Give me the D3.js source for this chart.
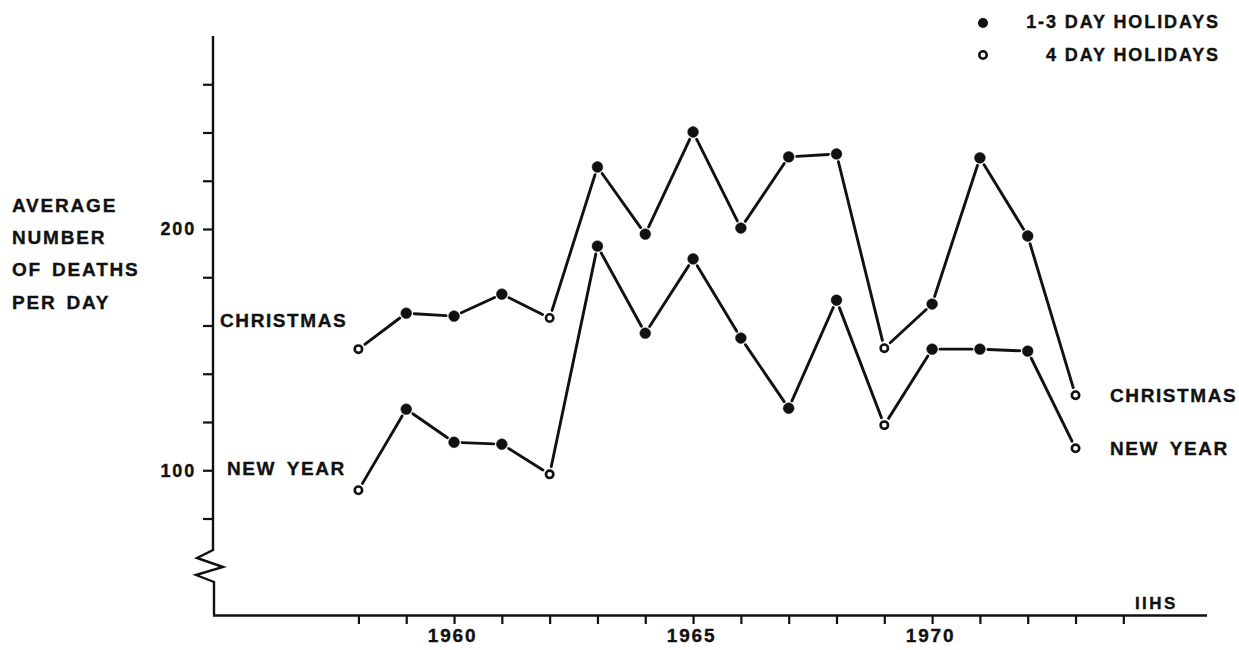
<!DOCTYPE html>
<html>
<head>
<meta charset="utf-8">
<script src="https://cdn.jsdelivr.net/npm/d3@7"></script>
<style>
  html, body { margin: 0; padding: 0; background: #fff; }
  svg { display: block; }
  text { font-family: "Liberation Sans", Arial, Helvetica, sans-serif; font-weight: bold; fill: #111; stroke: #111; stroke-width: 0.35px; }
</style>
</head>
<body>
<svg id="chart" width="1239" height="650"></svg>
<script>
// ---- data ----
const years = [1958,1959,1960,1961,1962,1963,1964,1965,1966,1967,1968,1969,1970,1971,1972,1973];
const christmas = [150.2,165.1,163.9,173.0,163.1,225.7,197.9,240.2,200.4,229.9,231.1,150.6,168.9,229.5,197.1,131.1];
const newYear   = [91.7,125.3,111.6,110.8,98.3,192.9,156.8,187.6,154.8,125.7,170.5,118.7,150.2,150.2,149.4,109.1];
// holiday length type per year: "short" = 1-3 day, "long" = 4 day
const holidayType = ["long","short","short","short","long","short","short","short","short","short","short","long","short","short","short","long"];
const xTickValues = [1958,1959,1960,1961,1962,1963,1964,1965,1966,1967,1968,1969,1970,1971,1972,1973,1974];
const xTickLabels = [1960,1965,1970];
const yTickValues = [80,100,120,140,160,180,200,220,240,260];
const yTickLabels = [100,200];
const yTitle = ["AVERAGE","NUMBER","OF DEATHS","PER DAY"];
const legendLabels = ["1-3 DAY HOLIDAYS","4 DAY HOLIDAYS"];

const svg = d3.select("#chart");
const ink = "#111";

const x = d3.scaleLinear().domain([1955, 1975.75]).range([215, 1207]);
const y = d3.scaleLinear().domain([40, 280]).range([615, 36]);
const axisX = 213;

// ---- y axis with break ----
const yTop = y(280), yBreakStart = 550, yBottom = y(40);
const yAxisPath = d3.path();
yAxisPath.moveTo(axisX, yTop);
yAxisPath.lineTo(axisX, yBreakStart);
yAxisPath.lineTo(axisX - 16, yBreakStart + 8);
yAxisPath.lineTo(axisX + 10, yBreakStart + 17);
yAxisPath.lineTo(axisX - 17, yBreakStart + 25);
yAxisPath.lineTo(axisX + 1, yBreakStart + 32);
yAxisPath.lineTo(axisX + 1, yBottom);
svg.append("path").attr("d", yAxisPath.toString())
  .attr("fill", "none").attr("stroke", ink).attr("stroke-width", 2.4).attr("stroke-linejoin", "miter");

const yAxis = d3.axisLeft(y).tickValues(yTickValues).tickSize(10)
  .tickFormat(d => yTickLabels.includes(d) ? d : "");
const gy = svg.append("g").attr("transform", `translate(${axisX},0)`).call(yAxis);
gy.select(".domain").remove();
gy.selectAll(".tick line").attr("stroke", ink).attr("stroke-width", 2.2);
gy.selectAll(".tick text").attr("x", -17).attr("font-size", 18)
  .attr("font-family", "Liberation Sans, Arial, sans-serif").attr("font-weight", "bold")
  .attr("letter-spacing", "1.8px").attr("fill", ink);

// ---- x axis ----
const xAxis = d3.axisBottom(x).tickValues(xTickValues).tickSize(9)
  .tickFormat(d => xTickLabels.includes(d) ? d : "");
const gx = svg.append("g").attr("transform", `translate(0,${yBottom})`).call(xAxis);
gx.select(".domain").attr("d", `M${axisX},0.5H${x.range()[1]}`).attr("stroke", ink).attr("stroke-width", 2.4);
gx.selectAll(".tick line").attr("stroke", ink).attr("stroke-width", 2.2);
gx.selectAll(".tick text").attr("x", -2).attr("y", 14).attr("dy", "0.71em").attr("font-size", 19)
  .attr("font-family", "Liberation Sans, Arial, sans-serif").attr("font-weight", "bold")
  .attr("letter-spacing", "1.8px").attr("fill", ink);

// ---- y title ----
svg.append("g").selectAll("text").data(yTitle).join("text")
  .attr("x", 12).attr("y", (d, i) => 212 + i * 32.2)
  .attr("font-size", 19).attr("letter-spacing", "1.8px").attr("word-spacing", "3px")
  .text(d => d);

// ---- series ----
const series = [
  { name: "CHRISTMAS", values: christmas },
  { name: "NEW YEAR", values: newYear }
];
const gap = 8;
series.forEach(s => {
  const pts = years.map((yr, i) => [x(yr), y(s.values[i])]);
  const segs = d3.pairs(pts).map(([a, b]) => {
    const dx = b[0] - a[0], dy = b[1] - a[1];
    const len = Math.hypot(dx, dy);
    const ux = dx / len, uy = dy / len;
    return [a[0] + ux * gap, a[1] + uy * gap, b[0] - ux * gap, b[1] - uy * gap];
  });
  svg.append("g").selectAll("line").data(segs).join("line")
    .attr("x1", d => d[0]).attr("y1", d => d[1]).attr("x2", d => d[2]).attr("y2", d => d[3])
    .attr("stroke", ink).attr("stroke-width", 2.9).attr("stroke-linecap", "round");
  const g = svg.append("g");
  g.selectAll("circle").data(years.map((yr, i) => ({ yr, v: s.values[i], t: holidayType[i] }))).join("circle")
    .attr("cx", d => x(d.yr)).attr("cy", d => y(d.v))
    .attr("r", d => d.t === "short" ? 5.4 : 3.7)
    .attr("fill", d => d.t === "short" ? ink : "#fff")
    .attr("stroke", ink).attr("stroke-width", d => d.t === "short" ? 0.5 : 2.6);
});

// ---- series labels ----
const labelStyle = sel => sel.attr("font-size", 19).attr("letter-spacing", "1.6px").attr("word-spacing", "4px");
svg.append("text").attr("x", 220).attr("y", 327).call(labelStyle).text("CHRISTMAS");
svg.append("text").attr("x", 227).attr("y", 475).call(labelStyle).text("NEW YEAR");
svg.append("text").attr("x", 1110).attr("y", 402).call(labelStyle).text("CHRISTMAS");
svg.append("text").attr("x", 1110).attr("y", 455).call(labelStyle).text("NEW YEAR");

// ---- legend ----
const lg = svg.append("g");
lg.append("circle").attr("cx", 983).attr("cy", 23).attr("r", 5).attr("fill", ink);
lg.append("circle").attr("cx", 983).attr("cy", 55).attr("r", 3.7).attr("fill", "#fff").attr("stroke", ink).attr("stroke-width", 2.6);
lg.selectAll("text").data(legendLabels).join("text")
  .attr("x", 1220).attr("y", (d, i) => 28 + i * 33)
  .attr("text-anchor", "end").attr("font-size", 18).attr("letter-spacing", "1.9px")
  .text(d => d);

// ---- source ----
svg.append("text").attr("x", 1135).attr("y", 609).attr("font-size", 17).attr("letter-spacing", "2.4px").text("IIHS");
</script>
</body>
</html>
